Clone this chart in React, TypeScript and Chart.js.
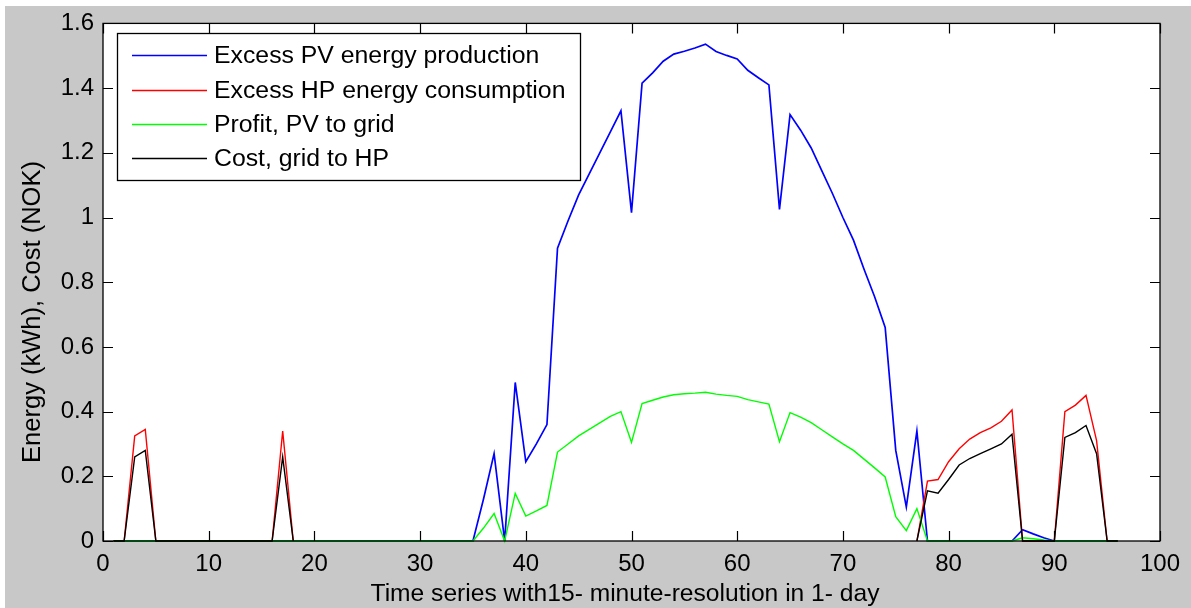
import React, { useEffect, useRef } from "react";
import { Chart, registerables } from "chart.js";

Chart.register(...registerables);

// ---- data (96 quarter-hour slots of one day) ----
const timeSlots: number[] = Array.from({ length: 96 }, (_, i) => i + 1);

const pvExcess: (number | null)[] = [
  0, 0, 0, 0, 0, 0, 0, 0, 0, 0, 0, 0, 0, 0, 0, 0, 0, 0, 0, 0,
  0, 0, 0, 0, 0, 0, 0, 0, 0, 0, 0, 0, 0, 0, 0,
  0.13, 0.27, 0, 0.49, 0.245, 0.3, 0.36, 0.905, 0.99, 1.07,
  1.135, 1.2, 1.265, 1.33, 1.015, 1.415, 1.447, 1.483, 1.505, 1.514,
  1.524, 1.536, 1.513, 1.501, 1.49, 1.455, 1.432, 1.41, 1.025, 1.318,
  1.27, 1.215, 1.145, 1.075, 1.0, 0.93, 0.84, 0.755, 0.66, 0.28,
  0.105, 0.34, 0,
  0, 0, 0, 0, 0, 0, 0, 0,
  0.035, 0.022, 0.01,
  0, 0, 0, 0, 0, 0, 0,
];

const hpExcess: (number | null)[] = [
  0, 0, 0.325, 0.345, 0, 0, 0, 0, 0, 0, 0, 0, 0, 0, 0, 0, 0.34, 0,
  null, null, null, null, null, null, null, null, null, null,
  null, null, null, null, null, null, null, null, null, null,
  null, null, null, null, null, null, null, null, null, null,
  null, null, null, null, null, null, null, null, null, null,
  null, null, null, null, null, null, null, null, null, null,
  null, null, null, null, null, null, null, null,
  0, 0.185, 0.19, 0.245, 0.285, 0.315, 0.335, 0.35, 0.37, 0.405,
  0, 0, 0, 0, 0.4, 0.42, 0.45, 0.31, 0, 0,
];

const pvProfit: (number | null)[] = [
  0, 0, 0, 0, 0, 0, 0, 0, 0, 0, 0, 0, 0, 0, 0, 0, 0, 0, 0, 0,
  0, 0, 0, 0, 0, 0, 0, 0, 0, 0, 0, 0, 0, 0, 0,
  0.04, 0.085, 0, 0.147, 0.077, 0.093, 0.11, 0.275, 0.3, 0.325,
  0.345, 0.365, 0.385, 0.4, 0.305, 0.425, 0.435, 0.445, 0.452, 0.455,
  0.457, 0.46, 0.454, 0.45, 0.447, 0.437, 0.43, 0.423, 0.307, 0.397,
  0.383, 0.366, 0.344, 0.322, 0.3, 0.28, 0.253, 0.226, 0.198, 0.075,
  0.032, 0.1, 0,
  0, 0, 0, 0, 0, 0, 0, 0,
  0.01, 0.007, 0.003,
  0, 0, 0, 0, 0, 0, 0,
];

const hpCost: (number | null)[] = [
  0, 0, 0.26, 0.28, 0, 0, 0, 0, 0, 0, 0, 0, 0, 0, 0, 0, 0.26, 0,
  null, null, null, null, null, null, null, null, null, null,
  null, null, null, null, null, null, null, null, null, null,
  null, null, null, null, null, null, null, null, null, null,
  null, null, null, null, null, null, null, null, null, null,
  null, null, null, null, null, null, null, null, null, null,
  null, null, null, null, null, null, null, null,
  0, 0.155, 0.148, 0.19, 0.235, 0.255, 0.27, 0.285, 0.3, 0.33,
  0, 0, 0, 0, 0.32, 0.335, 0.357, 0.27, 0, 0,
];

const seriesNames = [
  "Excess PV energy production",
  "Excess HP energy consumption",
  "Profit, PV to grid",
  "Cost, grid to HP",
];
const seriesColors = ["#0000ff", "#ff0000", "#00ff00", "#000000"];

const xTickValues = [0, 10, 20, 30, 40, 50, 60, 70, 80, 90, 100];
const yTickValues = [0, 0.2, 0.4, 0.6, 0.8, 1, 1.2, 1.4, 1.6];
const yTickLabels = ["0", "0.2", "0.4", "0.6", "0.8", "1", "1.2", "1.4", "1.6"];

const xTitle = "Time series with15- minute-resolution in 1- day";
const yTitle = "Energy (kWh), Cost (NOK)";

const FONT = "'Liberation Sans', Arial, Helvetica, sans-serif";
const FONT_SIZE = 24;

const decorPlugin = {
  id: "matlabDecor",
  beforeDraw(chart: any) {
    const { ctx, chartArea: a, width, height } = chart;
    ctx.save();
    ctx.fillStyle = "#ffffff";
    ctx.fillRect(0, 0, width, height);
    ctx.fillStyle = "#c8c8c8";
    ctx.fillRect(5, 6, width - 5, height - 6);
    ctx.fillStyle = "#ffffff";
    ctx.fillRect(a.left, a.top, a.right - a.left, a.bottom - a.top);
    ctx.restore();
  },
  afterDraw(chart: any) {
    const { ctx, chartArea: a } = chart;
    const xs = chart.scales.x;
    const ys = chart.scales.y;
    ctx.save();
    // axes box
    ctx.strokeStyle = "#000";
    ctx.lineWidth = 1.3;
    ctx.strokeRect(a.left, a.top, a.right - a.left, a.bottom - a.top);
    // inward ticks
    const tl = 10;
    ctx.lineWidth = 1.2;
    ctx.beginPath();
    xTickValues.forEach((v) => {
      const px = Math.round(xs.getPixelForValue(v)) + 0.5;
      ctx.moveTo(px, a.bottom);
      ctx.lineTo(px, a.bottom - tl);
      ctx.moveTo(px, a.top);
      ctx.lineTo(px, a.top + tl);
    });
    yTickValues.forEach((v) => {
      const py = Math.round(ys.getPixelForValue(v)) + 0.5;
      ctx.moveTo(a.left, py);
      ctx.lineTo(a.left + tl, py);
      ctx.moveTo(a.right, py);
      ctx.lineTo(a.right - tl, py);
    });
    ctx.stroke();

    // axis titles
    ctx.fillStyle = "#000";
    ctx.font = `24.6px ${FONT}`;
    ctx.textAlign = "center";
    ctx.textBaseline = "middle";
    ctx.fillText(xTitle, 625, 594);
    ctx.save();
    ctx.font = `25.5px ${FONT}`;
    ctx.translate(33, 312);
    ctx.rotate(-Math.PI / 2);
    ctx.fillText(yTitle, 0, 0);
    ctx.restore();

    // legend box (MATLAB style, inside axes)
    const bx = 117, by = 33, bw = 463, bh = 147;
    ctx.fillStyle = "#fff";
    ctx.fillRect(bx, by, bw, bh);
    ctx.strokeStyle = "#000";
    ctx.lineWidth = 1.3;
    ctx.strokeRect(bx + 0.5, by + 0.5, bw, bh);
    const rowY = [55, 90, 124, 158];
    ctx.font = `24.8px ${FONT}`;
    chart.data.datasets.forEach((ds: any, i: number) => {
      const y = rowY[i];
      ctx.strokeStyle = ds.borderColor;
      ctx.lineWidth = 1.5;
      ctx.beginPath();
      ctx.moveTo(132, y + 0.5);
      ctx.lineTo(207, y + 0.5);
      ctx.stroke();
      ctx.fillStyle = "#000";
      ctx.textAlign = "left";
      ctx.textBaseline = "middle";
      ctx.fillText(ds.label, 214, y + 1);
    });
    ctx.restore();
  },
};

export default function App() {
  const canvasRef = useRef<HTMLCanvasElement | null>(null);

  useEffect(() => {
    if (!canvasRef.current) return;
    const series = [pvExcess, hpExcess, pvProfit, hpCost];
    const widths = [1.7, 1.4, 1.4, 1.4];
    const datasets = series.map((vals, i) => ({
      label: seriesNames[i],
      data: timeSlots.map((x, k) => ({ x, y: vals[k] })),
      borderColor: seriesColors[i],
      backgroundColor: seriesColors[i],
      borderWidth: widths[i],
      pointRadius: 0,
      tension: 0,
      fill: false,
      spanGaps: false,
      clip: 4,
      order: 4 - i,
    }));

    const chart = new Chart(canvasRef.current, {
      type: "line",
      data: { datasets },
      plugins: [decorPlugin],
      options: {
        responsive: false,
        animation: false,
        devicePixelRatio: 1,
        layout: { padding: { left: 0, top: 22, right: 31, bottom: 0 } },
        plugins: {
          legend: { display: false },
          tooltip: { enabled: false },
          title: { display: false },
        },
        scales: {
          x: {
            type: "linear",
            min: 0,
            max: 100,
            afterBuildTicks: (s: any) => {
              s.ticks = xTickValues.map((v) => ({ value: v }));
            },
            afterFit: (s: any) => {
              s.height = 67;
            },
            grid: { display: false, drawTicks: false },
            border: { display: false },
            ticks: {
              color: "#000",
              font: { family: FONT, size: FONT_SIZE },
              padding: 9,
              maxRotation: 0,
              autoSkip: false,
            },
          },
          y: {
            type: "linear",
            min: 0,
            max: 1.6,
            afterBuildTicks: (s: any) => {
              s.ticks = yTickValues.map((v) => ({ value: v }));
            },
            afterFit: (s: any) => {
              s.width = 103;
            },
            grid: { display: false, drawTicks: false },
            border: { display: false },
            ticks: {
              color: "#000",
              font: { family: FONT, size: FONT_SIZE },
              padding: 9,
              autoSkip: false,
              callback: (v: any) => {
                const idx = yTickValues.findIndex((t) => Math.abs(t - Number(v)) < 1e-9);
                return idx >= 0 ? yTickLabels[idx] : "";
              },
            },
          },
        },
      } as any,
    });
    return () => chart.destroy();
  }, []);

  return (
    <div style={{ position: "fixed", left: 0, top: 0, width: 1191, height: 608 }}>
      <canvas ref={canvasRef} width={1191} height={608} style={{ display: "block" }} />
    </div>
  );
}
